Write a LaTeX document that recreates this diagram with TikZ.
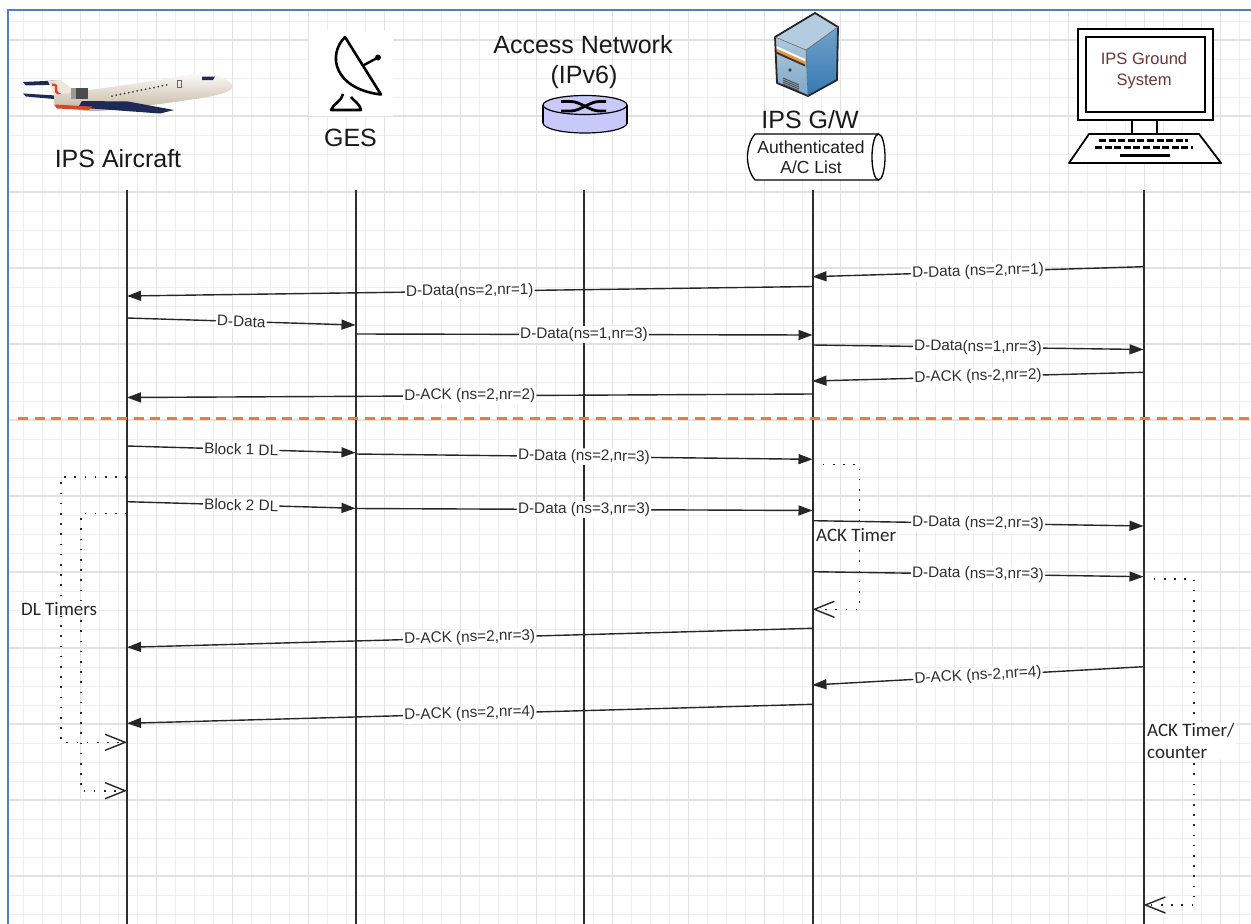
\documentclass[tikz,border=0pt]{standalone}
\usepackage{fontspec}
\setmainfont{Liberation Sans}
\newfontfamily\timerfont{Carlito}
\usetikzlibrary{arrows.meta}

\definecolor{gridminor}{HTML}{EEEEEE}
\definecolor{gridmajor}{HTML}{E2E2E2}
\definecolor{framecol}{HTML}{4F81BD}
\definecolor{sepcol}{HTML}{ED7D31}
\definecolor{navy}{HTML}{1E2A55}
\definecolor{hull}{HTML}{ECE6DC}
\definecolor{hullshade}{HTML}{C4B39C}
\definecolor{logored}{HTML}{D9472B}
\definecolor{routerfill}{HTML}{C8C8FA}
\definecolor{screentext}{HTML}{6E3434}
\definecolor{srvfront}{HTML}{7EA6C6}
\definecolor{srvside}{HTML}{3479B3}
\definecolor{srvtop}{HTML}{B4CCDF}
\definecolor{srvorange}{HTML}{E8963A}

% one message: name, start x/y, end x/y, label
\newcommand\msgarrow[6]{%
  \coordinate (#1s) at (#2,#3);
  \coordinate (#1e) at (#4,#5);
  \draw[msg] (#1s) -- node[lbl]{#6} (#1e);}

\begin{document}
\begin{tikzpicture}[x=1pt,y=-1pt,
  gridmin/.style={draw=gridminor,line width=1pt},
  gridmaj/.style={draw=gridmajor,line width=1.2pt},
  life/.style={draw=black!82,line width=2pt},
  msg/.style={draw=black!85,line width=1.4pt,-{Triangle[length=14pt,width=10pt]}},
  lbl/.style={font=\fontsize{15.3}{18}\selectfont,text=black!82,fill=white,inner sep=1.2pt,sloped},
  hdr/.style={font=\fontsize{25}{30}\selectfont,text=black!90,inner sep=0pt},
  timer/.style={draw=black!85,line width=1.6pt,dash pattern=on 1.6pt off 8.6pt,
     -{Straight Barb[length=20pt,width=16pt,line width=1.4pt]}},
  tlabel/.style={font=\timerfont\fontsize{19}{21.6}\selectfont,text=black!85,fill=white,inner sep=1pt},
]
\useasboundingbox (0,0) rectangle (1251,924);
\fill[white] (0,0) rectangle (1251,924);

% ---------- background grid ----------
\foreach \k in {1,...,65} {
  \pgfmathsetmacro\gx{4.7+19*\k}
  \draw[gridmin] (\gx,11) -- (\gx,924);
}
\foreach \k in {1,...,48} {
  \pgfmathsetmacro\gy{2+19*\k}
  \draw[gridmin] (9,\gy) -- (1251,\gy);
}
\foreach \k in {1,...,16} {
  \pgfmathsetmacro\gx{4.7+76*\k}
  \draw[gridmaj] (\gx,11) -- (\gx,924);
}
\foreach \k in {0,...,11} {
  \pgfmathsetmacro\gy{40+76*\k}
  \draw[gridmaj] (9,\gy) -- (1251,\gy);
}
\draw[framecol,line width=2.4pt] (8,924) -- (8,10) -- (1251,10);

% ---------- aircraft ----------
\begin{scope}
  \fill[navy] (23,82) -- (56,80.5) -- (63,84.5) -- (26,85.5) -- cycle;
  \fill[navy] (23,93.5) -- (72,96.5) -- (71,100.5) -- (26,96.5) -- cycle;
  \fill[hull] (48,81) -- (60,80) -- (78,93) -- (56,99) -- cycle;
  \draw[logored,line width=2.4pt] (52,84.5) .. controls (62,85) and (50,91) .. (61,95);
  \shade[top color=white,bottom color=hullshade]
    (54,95) .. controls (90,90) and (150,82) .. (193,74)
    .. controls (210,71) and (227,77) .. (233,86)
    .. controls (231,92) and (222,94) .. (205,97.5)
    .. controls (170,103) and (130,108) .. (100,111)
    .. controls (82,112) and (66,108) .. (54,104) -- cycle;
  \fill[navy] (82,101) -- (128,101.5) -- (174,110) -- (160,113.5) -- (78,107.5) -- cycle;
  \fill[black!70] (71,88) rectangle (88,99);
  \fill[black!40] (71,88) rectangle (76,99);
  \fill[logored] (54,104.5) -- (92,106.5) -- (89,110) -- (57,108.5) -- cycle;
  \foreach \i in {0,...,13} {
    \fill[black!75] ({112+4.2*\i},{96-0.85*\i}) circle[radius=1];
  }
  \fill[navy] (202,76.5) -- (215,76.5) -- (213,80) -- (202,80) -- cycle;
  \draw[black!60,line width=0.8pt] (177,80) rectangle (181,87.5);
\end{scope}

% ---------- ground earth station dish ----------
\fill[white] (309,31) rectangle (393,116);
\draw[line width=2.6pt,line join=round]
  (345,37) .. controls (327,55) and (334,89) .. (381,94.5) -- cycle;
\draw[line width=2.4pt] (364,65) -- (377,58);
\fill (378,57.5) circle[radius=3];
\draw[line width=2.6pt,line join=round]
  (343,94) .. controls (342,101) and (333,104) .. (331,110) -- (361,110)
  .. controls (360,104) and (354,101) .. (351,97);

% ---------- router ----------
\draw[line width=1.2pt,fill=routerfill] (585,123) ellipse [x radius=42,y radius=10];
\fill[routerfill] (543.6,105) rectangle (626.4,123);
\draw[line width=1.2pt] (543,105) -- (543,123) (627,105) -- (627,123);
\draw[line width=1.8pt] (627,113) -- (627,124);
\draw[line width=1.2pt,fill=routerfill] (585,105) ellipse [x radius=42,y radius=9.5];
\draw[line width=2.8pt] (561,101.5) -- (571,101.5)
  .. controls (580,101.5) and (590,111) .. (599,111) -- (606,111);
\draw[line width=2.8pt] (561,111) -- (571,111)
  .. controls (580,111) and (590,101.5) .. (599,101.5) -- (606,101.5);

% ---------- gateway server ----------
\begin{scope}[line join=round]
  \fill[srvtop] (775,37) -- (815,13) -- (838,27) -- (806,50) -- cycle;
  \shade[top color=srvside!70!white,bottom color=srvside] (806,50) -- (838,27) -- (837,80) -- (808,96) -- cycle;
  \shade[top color=srvfront!60!white,bottom color=srvfront] (775,37) -- (806,50) -- (808,96) -- (777,83) -- cycle;
  \fill[white] (776,46) -- (805,59) -- (805,61.5) -- (776,48.5) -- cycle;
  \fill[srvorange] (776,48.5) -- (805,61.5) -- (805,64.5) -- (776,51.5) -- cycle;
  \fill[black!80] (776,51.5) -- (805,64.5) -- (805,66.5) -- (776,53.5) -- cycle;
  \fill[black!75] (790,70) circle[radius=1.8];
  \foreach \j in {0,...,3}
    \draw[black!70,line width=0.9pt] (783,{78+2*\j}) -- (799,{85+2*\j});
  \draw[black!85,line width=1.8pt] (775,37) -- (815,13) -- (838,27) -- (837,80) -- (808,96) -- (777,83) -- cycle;
  \draw[black!60,line width=0.6pt] (775,37) -- (806,50) -- (838,27) (806,50) -- (808,96);
\end{scope}

% ---------- ground system terminal ----------
\draw[line width=1.8pt,fill=white] (1078,29) rectangle (1213,120);
\draw[line width=1.8pt] (1086,37) rectangle (1205,112);
\draw[line width=1.8pt,fill=white] (1132,120) rectangle (1157,134);
\draw[line width=1.8pt,fill=white,line join=round] (1089,134) -- (1199,134) -- (1221,163) -- (1069,163) -- cycle;
\draw[line width=3pt,dash pattern=on 7pt off 2.6pt] (1099,140.5) -- (1188,140.5);
\draw[line width=3pt,dash pattern=on 7pt off 2.6pt] (1095,147) -- (1193,147);
\draw[line width=3pt] (1120,155) -- (1170,155);
\node[font=\fontsize{16.5}{20.5}\selectfont,text=screentext,align=center,inner sep=0pt]
  (gsname) at (1144,70.7) {IPS Ground\\System};

% ---------- authenticated list store ----------
\draw[line width=1.3pt,fill=white] (878,134) -- (755,134)
  .. controls (745,146) and (745,168) .. (755,180) -- (878,180);
\draw[line width=1.3pt,fill=white] (878.5,157) ellipse [x radius=6.5,y radius=23];
\node[font=\fontsize{17.5}{20}\selectfont,text=black!88,align=center,inner sep=0pt]
  (aclist) at (811,157.5) {Authenticated\\A/C List};

% ---------- participant names ----------
\node[hdr,anchor=base] (acname) at (118,167) {IPS Aircraft};
\node[hdr,anchor=base] (gesname) at (350.5,146) {GES};
\node[hdr,anchor=base] (anname) at (583,53.5) {Access Network};
\node[hdr,anchor=base] (anip) at (584,83.5) {(IPv6)};
\node[hdr,anchor=base] (gwname) at (810,128) {IPS G/W};

% ---------- lifelines ----------
\def\xA{127}
\def\xB{355.5}
\def\xC{584}
\def\xD{812.5}
\def\xE{1143.5}
\foreach \n/\lx in {ac/\xA,ges/\xB,an/\xC,gw/\xD,gs/\xE} {
  \coordinate (\n-top) at (\lx,190);
  \coordinate (\n-bot) at (\lx,924);
  \draw[life] (\n-top) -- (\n-bot);
}

% ---------- exchange before the separator ----------
\msgarrow{m1}{\xE}{266.7}{\xD}{276.7}{D-Data (ns=2,nr=1)}
\msgarrow{m2}{\xD}{286.5}{\xA}{296}{D-Data(ns=2,nr=1)}
\msgarrow{m3}{\xA}{318}{\xB}{325}{D-Data}
\msgarrow{m4}{\xB}{334}{\xD}{335}{D-Data(ns=1,nr=3)}
\msgarrow{m5}{\xD}{345}{\xE}{349.5}{D-Data(ns=1,nr=3)}
\msgarrow{m6}{\xE}{372.3}{\xD}{381}{D-ACK (ns-2,nr=2)}
\msgarrow{m7}{\xD}{394}{\xA}{397.5}{D-ACK (ns=2,nr=2)}

\coordinate (sepL) at (18,418);
\coordinate (sepR) at (1251,418);
\draw[sepcol,line width=3pt,dash pattern=on 10pt off 6.5pt] (sepL) -- (sepR);

% ---------- exchange after the separator ----------
\msgarrow{m8}{\xA}{446}{\xB}{452.7}{Block 1 DL}
\msgarrow{m9}{\xB}{454}{\xD}{459.3}{D-Data (ns=2,nr=3)}
\msgarrow{m10}{\xA}{501.7}{\xB}{508.3}{Block 2 DL}
\msgarrow{m11}{\xB}{508.5}{\xD}{510.5}{D-Data (ns=3,nr=3)}
\msgarrow{m12}{\xD}{520.7}{\xE}{526}{D-Data (ns=2,nr=3)}
\msgarrow{m13}{\xD}{571.7}{\xE}{576.7}{D-Data (ns=3,nr=3)}
\msgarrow{m14}{\xD}{628.3}{\xA}{647.3}{D-ACK (ns=2,nr=3)}
\msgarrow{m15}{\xE}{666.7}{\xD}{685}{D-ACK (ns-2,nr=4)}
\msgarrow{m16}{\xD}{704.3}{\xA}{723.3}{D-ACK (ns=2,nr=4)}

% ---------- timers ----------
\coordinate (gwt-s) at (\xD,464.3);
\coordinate (gwt-e) at (\xD,609.3);
\draw[timer] (gwt-s) -- (859.3,464.3) -- (859.3,609.3) -- (gwt-e);
\node[tlabel,anchor=base west] (gwtimer) at (815,541.7) {ACK Timer};

\coordinate (dl1-s) at (\xA,476.7);
\coordinate (dl1-e) at (\xA,742.3);
\draw[timer] (dl1-s) -- (61.2,476.7) -- (61.2,742.3) -- (dl1-e);
\coordinate (dl2-s) at (\xA,513.3);
\coordinate (dl2-e) at (\xA,790.7);
\draw[timer] (dl2-s) -- (80.8,513.3) -- (80.8,790.7) -- (dl2-e);
\node[tlabel,anchor=base west] (dltimers) at (20,615) {DL Timers};

\coordinate (gst-s) at (\xE,579);
\coordinate (gst-e) at (\xE,905);
\draw[timer] (gst-s) -- (1194,579) -- (1194,905) -- (gst-e);
\node[tlabel,anchor=north west,align=left] (gstimer) at (1146,722) {ACK Timer/\\counter};

\end{tikzpicture}
\end{document}
